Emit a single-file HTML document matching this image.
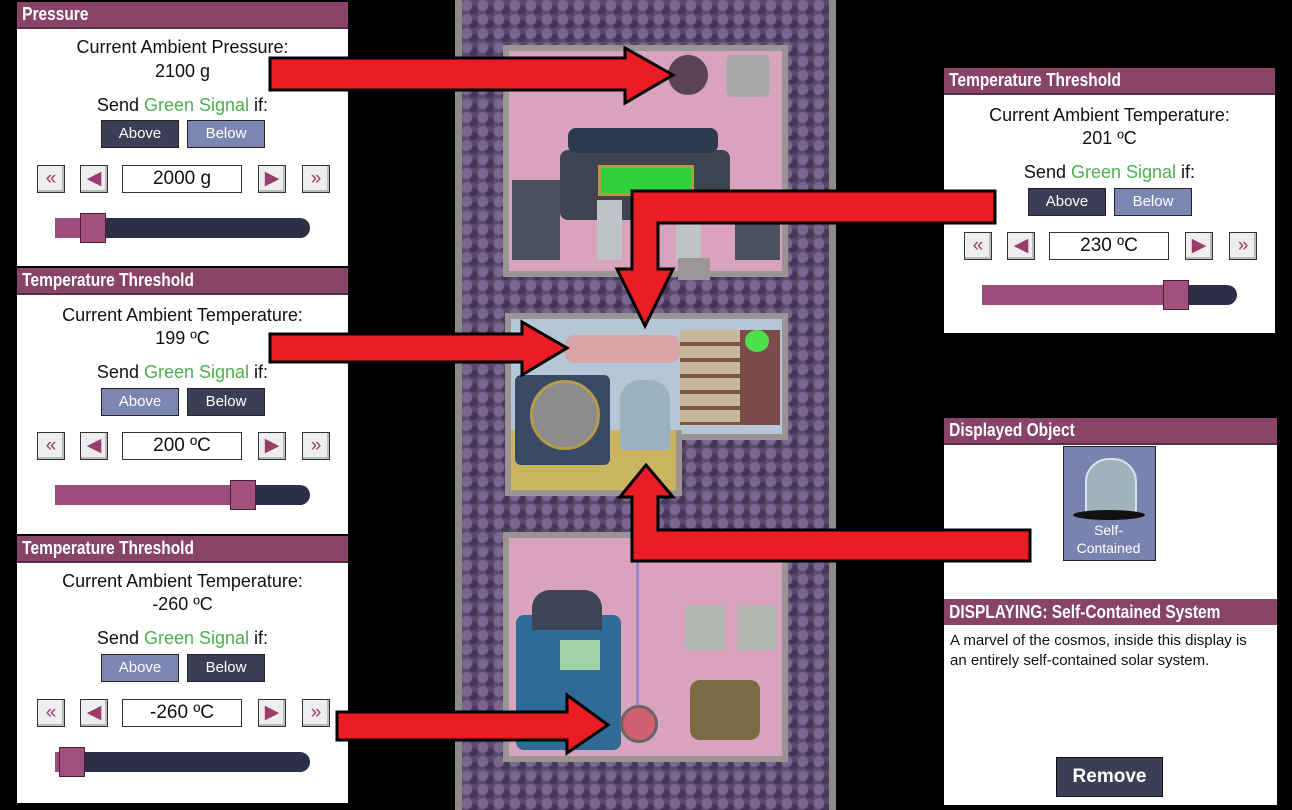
<!DOCTYPE html>
<html><head><meta charset="utf-8"><style>
body{margin:0;width:1292px;height:810px;background:#000;position:relative;overflow:hidden;font-family:"Liberation Sans",sans-serif}
.a{position:absolute}
.panel{position:absolute;background:#fff;width:331px}
.hd{position:absolute;left:0;top:0;right:0;height:25px;background:#874466;border-bottom:2px solid #5a2c45}
.hd span,.hx span{display:inline-block;color:#fff;font-weight:bold;font-size:18px;line-height:25px;padding-left:6px;font-family:"Liberation Sans Narrow","Liberation Sans",sans-serif;transform:scaleX(0.86);transform-origin:left center;white-space:nowrap}
.t{position:absolute;left:0;right:0;text-align:center;font-size:18px;color:#111}
.g{color:#4caf50}
.btn{position:absolute;top:118px;width:76px;height:26px;border:1px solid #222;color:#fff;font-size:15px;text-align:center;line-height:26px}
.dk{background:#3b3e55}.lt{background:#7c86b2}
.sq{position:absolute;top:163px;width:26px;height:26px;border:1px solid #333;background:#eee;box-shadow:inset -2px -2px 0 #bbb;color:#9a3d6c;font-size:19px;line-height:26px;text-align:center}
.inp{position:absolute;top:163px;width:118px;height:26px;border:1px solid #333;background:#fff;font-size:19px;line-height:26px;text-align:center;color:#111}
.trk{position:absolute;top:216px;height:20px;background:#2c2f45;border-radius:10px}
.fill{position:absolute;top:216px;height:20px;background:#9c4d7c}
.hdl{position:absolute;top:211px;width:24px;height:28px;background:#a3507f;border:1px solid #4a2038}
</style></head><body>

<!-- center game area -->
<div class="a" style="left:455px;top:0;width:381px;height:810px;background:#5a4a6c;background-image:radial-gradient(circle at 30% 40%,#7a6690 0 5px,transparent 6px),radial-gradient(circle at 70% 70%,#443656 0 4px,transparent 5px);background-size:16px 14px;border-left:7px solid #8d8a8a;border-right:7px solid #8d8a8a;box-sizing:border-box"></div>
<!-- room1 -->
<div class="a" style="left:503px;top:45px;width:285px;height:232px;background:#d9a3bd;border:6px solid #9a9494;box-sizing:border-box"></div>
<div class="a" style="left:560px;top:150px;width:170px;height:70px;background:#3f4452;border-radius:8px"></div>
<div class="a" style="left:598px;top:165px;width:90px;height:25px;background:#2fd13a;border:3px solid #b49b3c"></div>
<div class="a" style="left:568px;top:128px;width:150px;height:25px;background:#2b3a4c;border-radius:8px"></div>
<div class="a" style="left:512px;top:180px;width:48px;height:80px;background:#4b5160"></div>
<div class="a" style="left:735px;top:200px;width:45px;height:60px;background:#4b5160"></div>
<div class="a" style="left:597px;top:200px;width:25px;height:60px;background:#bfc3c8"></div>
<div class="a" style="left:676px;top:220px;width:25px;height:40px;background:#bfc3c8"></div>
<div class="a" style="left:668px;top:55px;width:40px;height:40px;background:#5a4454;border-radius:50%"></div>
<div class="a" style="left:726px;top:55px;width:44px;height:42px;background:#a9a9a9;border-radius:6px"></div>
<div class="a" style="left:678px;top:258px;width:32px;height:22px;background:#9c9696"></div>
<!-- room2 -->
<div class="a" style="left:505px;top:313px;width:283px;height:127px;background:#b5c6d6;border:6px solid #9a9494;box-sizing:border-box"></div>
<div class="a" style="left:505px;top:430px;width:177px;height:66px;background:#c9b560;border:6px solid #9a9494;border-top:none;box-sizing:border-box"></div>
<div class="a" style="left:515px;top:375px;width:95px;height:90px;background:#3a4a66;border-radius:6px"></div>
<div class="a" style="left:530px;top:380px;width:64px;height:64px;background:#8c8c8c;border-radius:50%;border:3px solid #b59b4a"></div>
<div class="a" style="left:620px;top:380px;width:50px;height:70px;background:#9ab2c0;border-radius:20px 20px 4px 4px"></div>
<div class="a" style="left:680px;top:330px;width:60px;height:95px;background:repeating-linear-gradient(#c9b79e 0 12px,#7b5a3e 12px 16px)"></div>
<div class="a" style="left:740px;top:330px;width:40px;height:95px;background:#7b4a4a"></div>
<div class="a" style="left:745px;top:330px;width:24px;height:22px;background:#4ee04a;border-radius:50%"></div>
<div class="a" style="left:565px;top:335px;width:115px;height:28px;background:#d9a4a8;border-radius:10px"></div>
<!-- room3 -->
<div class="a" style="left:503px;top:532px;width:285px;height:230px;background:#d9a3bd;border:6px solid #9a9494;box-sizing:border-box"></div>
<div class="a" style="left:516px;top:615px;width:105px;height:135px;background:#2f6b96;border-radius:8px"></div>
<div class="a" style="left:532px;top:590px;width:70px;height:40px;background:#3c4556;border-radius:18px 18px 0 0"></div>
<div class="a" style="left:560px;top:640px;width:40px;height:30px;background:#9fd3a7"></div>
<div class="a" style="left:685px;top:605px;width:40px;height:45px;background:#b1b6b0"></div>
<div class="a" style="left:737px;top:605px;width:40px;height:45px;background:#b1b6b0"></div>
<div class="a" style="left:690px;top:680px;width:70px;height:60px;background:#7b6b45;border-radius:10px"></div>
<div class="a" style="left:620px;top:705px;width:32px;height:32px;background:#d06070;border-radius:50%;border:3px solid #666"></div>
<div class="a" style="left:636px;top:545px;width:3px;height:160px;background:#9a86c8"></div>

<!-- Left panel 1 -->
<div class="panel" style="left:17px;top:2px;height:264px">
<div class="hd"><span>Pressure</span></div>
<div class="t" style="top:35px">Current Ambient Pressure:</div>
<div class="t" style="top:59px">2100 g</div>
<div class="t" style="top:93px">Send <span class="g">Green Signal</span> if:</div>
<div class="btn dk" style="left:84px">Above</div><div class="btn lt" style="left:170px">Below</div>
<div class="sq" style="left:20px">«</div><div class="sq" style="left:63px">◀</div>
<div class="inp" style="left:105px">2000 g</div>
<div class="sq" style="left:241px">▶</div><div class="sq" style="left:285px">»</div>
<div class="trk" style="left:38px;width:255px"></div><div class="fill" style="left:38px;width:30px"></div><div class="hdl" style="left:63px"></div>
</div>

<!-- Left panel 2 -->
<div class="panel" style="left:17px;top:268px;height:266px">
<div class="hd"><span>Temperature Threshold</span></div>
<div class="t" style="top:37px">Current Ambient Temperature:</div>
<div class="t" style="top:60px">199 ºC</div>
<div class="t" style="top:94px">Send <span class="g">Green Signal</span> if:</div>
<div class="btn lt" style="left:84px;top:120px">Above</div><div class="btn dk" style="left:170px;top:120px">Below</div>
<div class="sq" style="left:20px;top:164px">«</div><div class="sq" style="left:63px;top:164px">◀</div>
<div class="inp" style="left:105px;top:164px">200 ºC</div>
<div class="sq" style="left:241px;top:164px">▶</div><div class="sq" style="left:285px;top:164px">»</div>
<div class="trk" style="left:38px;width:255px;top:217px"></div><div class="fill" style="left:38px;width:180px;top:217px"></div><div class="hdl" style="left:213px;top:212px"></div>
</div>

<!-- Left panel 3 -->
<div class="panel" style="left:17px;top:536px;height:267px">
<div class="hd"><span>Temperature Threshold</span></div>
<div class="t" style="top:35px">Current Ambient Temperature:</div>
<div class="t" style="top:58px">-260 ºC</div>
<div class="t" style="top:92px">Send <span class="g">Green Signal</span> if:</div>
<div class="btn lt" style="left:84px">Above</div><div class="btn dk" style="left:170px">Below</div>
<div class="sq" style="left:20px">«</div><div class="sq" style="left:63px">◀</div>
<div class="inp" style="left:105px">-260 ºC</div>
<div class="sq" style="left:241px">▶</div><div class="sq" style="left:285px">»</div>
<div class="trk" style="left:38px;width:255px"></div><div class="fill" style="left:38px;width:20px"></div><div class="hdl" style="left:42px"></div>
</div>

<!-- Right panel 1 -->
<div class="panel" style="left:944px;top:68px;height:265px">
<div class="hd"><span>Temperature Threshold</span></div>
<div class="t" style="top:37px">Current Ambient Temperature:</div>
<div class="t" style="top:60px">201 ºC</div>
<div class="t" style="top:94px">Send <span class="g">Green Signal</span> if:</div>
<div class="btn dk" style="left:84px;top:120px">Above</div><div class="btn lt" style="left:170px;top:120px">Below</div>
<div class="sq" style="left:20px;top:164px">«</div><div class="sq" style="left:63px;top:164px">◀</div>
<div class="inp" style="left:105px;top:164px">230 ºC</div>
<div class="sq" style="left:241px;top:164px">▶</div><div class="sq" style="left:285px;top:164px">»</div>
<div class="trk" style="left:38px;width:255px;top:217px"></div><div class="fill" style="left:38px;width:190px;top:217px"></div><div class="hdl" style="left:219px;top:212px"></div>
</div>

<!-- Right panel 2 -->
<div class="panel" style="left:944px;top:418px;height:387px;width:333px">
<div class="hd"><span>Displayed Object</span></div>
<div class="a" style="left:119px;top:28px;width:91px;height:113px;background:#7a83b0;border:1px solid #222"></div>
<div class="a" style="left:141px;top:40px;width:48px;height:52px;background:#9fb3bd;border-radius:24px 24px 4px 4px;border:2px solid #dde"></div>
<div class="a" style="left:129px;top:92px;width:72px;height:10px;background:#111;border-radius:50%"></div>
<div class="a" style="left:119px;top:103px;width:91px;text-align:center;color:#fff;font-size:14px;line-height:18px;font-family:'Liberation Sans Narrow','Liberation Sans',sans-serif">Self-<br>Contained</div>
<div class="a hx" style="left:0;top:181px;right:0;height:26px;background:#874466"><span style="line-height:26px">DISPLAYING: Self-Contained System</span></div>
<div class="a" style="left:6px;top:213px;font-size:15px;line-height:20px;color:#111">A marvel of the cosmos, inside this display is<br>an entirely self-contained solar system.</div>
<div class="a" style="left:112px;top:339px;width:105px;height:38px;background:#3b3e55;border:1px solid #111;color:#fff;font-weight:bold;font-size:19px;line-height:38px;text-align:center;font-family:'Liberation Sans Narrow','Liberation Sans',sans-serif">Remove</div>
</div>

<!-- arrows on top -->
<svg class="a" style="left:0;top:0" width="1292" height="810">
<g fill="#ec1c24" stroke="#000" stroke-width="3" stroke-linejoin="miter">
<polygon points="270,58 625,58 625,48 673,75 625,103 625,90 270,90"/>
<polygon points="995,191 632,191 632,269 617,269 645,326 673,269 658,269 658,223 995,223"/>
<polygon points="270,334 522,334 522,322 567,348 522,375 522,362 270,362"/>
<polygon points="1030,530 658,530 658,497 673,497 646,465 620,497 632,497 632,561 1030,561"/>
<polygon points="337,712 567,712 567,695 608,725 567,753 567,740 337,740"/>
</g></svg>
</body></html>
